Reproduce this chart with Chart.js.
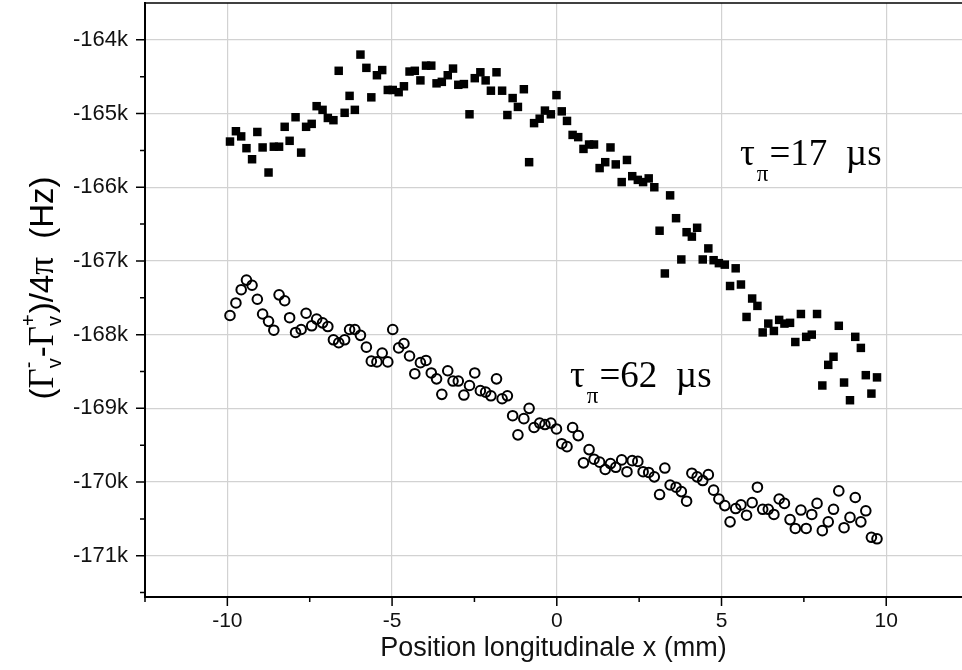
<!DOCTYPE html>
<html>
<head>
<meta charset="utf-8">
<title>Position longitudinale</title>
<script src="https://cdn.jsdelivr.net/npm/chart.js@4.4.1/dist/chart.umd.min.js"></script>
<style>
  html, body { margin: 0; padding: 0; background: #fff; overflow: hidden; }
  canvas { display: block; }
</style>
</head>
<body>
<canvas id="grafik" width="962" height="670"></canvas>
<script>
// Position x (mm), same for both series
const positions = [
  -9.92,-9.74,-9.58,-9.42,-9.25,-9.09,-8.93,-8.75,-8.59,-8.43,
  -8.26,-8.11,-7.93,-7.76,-7.61,-7.44,-7.29,-7.11,-6.95,-6.78,
  -6.62,-6.44,-6.29,-6.13,-5.96,-5.78,-5.63,-5.46,-5.30,-5.13,
  -4.98,-4.80,-4.64,-4.47,-4.31,-4.14,-3.97,-3.81,-3.65,-3.49,
  -3.31,-3.15,-2.99,-2.82,-2.65,-2.49,-2.32,-2.16,-2.00,-1.83,
  -1.66,-1.50,-1.34,-1.18,-1.00,-0.84,-0.69,-0.52,-0.36,-0.18,
  -0.01,0.15,0.31,0.48,0.65,0.81,0.98,1.13,1.30,1.47,
  1.63,1.79,1.97,2.13,2.29,2.46,2.62,2.79,2.96,3.12,
  3.28,3.44,3.62,3.78,3.94,4.10,4.26,4.43,4.60,4.76,
  4.92,5.10,5.26,5.43,5.59,5.76,5.93,6.09,6.25,6.42,
  6.59,6.75,6.91,7.08,7.24,7.41,7.57,7.74,7.90,8.06,
  8.24,8.40,8.56,8.72,8.90,9.06,9.23,9.38,9.55,9.72
];

// tau_pi = 17 us (filled squares), in kHz
const tau17 = [
  -165.38,-165.24,-165.31,-165.47,-165.62,-165.25,-165.46,-165.80,-165.45,-165.45,
  -165.18,-165.37,-165.05,-165.53,-165.18,-165.14,-164.90,-164.95,-165.06,-165.09,
  -164.42,-164.99,-164.76,-164.95,-164.20,-164.38,-164.78,-164.48,-164.41,-164.68,
  -164.68,-164.71,-164.63,-164.43,-164.42,-164.55,-164.35,-164.35,-164.59,-164.57,
  -164.48,-164.39,-164.61,-164.60,-165.01,-164.52,-164.44,-164.55,-164.69,-164.44,
  -164.69,-165.02,-164.79,-164.91,-164.67,-165.66,-165.13,-165.07,-164.96,-165.01,
  -164.75,-164.97,-165.10,-165.29,-165.32,-165.48,-165.42,-165.42,-165.74,-165.66,
  -165.46,-165.69,-165.93,-165.63,-165.85,-165.90,-165.93,-165.88,-166.00,-166.59,
  -167.17,-166.11,-166.42,-166.98,-166.61,-166.67,-166.55,-166.98,-166.83,-166.99,
  -167.03,-167.05,-167.34,-167.10,-167.32,-167.76,-167.51,-167.61,-167.97,-167.85,
  -167.95,-167.80,-167.85,-167.84,-168.10,-167.72,-168.03,-168.00,-167.72,-168.69,
  -168.41,-168.30,-167.88,-168.65,-168.89,-168.03,-168.18,-168.55,-168.80,-168.58
];

// tau_pi = 62 us (open circles), in kHz
const tau62 = [
  -167.74,-167.57,-167.39,-167.26,-167.33,-167.52,-167.72,-167.82,-167.94,-167.46,
  -167.54,-167.77,-167.97,-167.93,-167.71,-167.88,-167.79,-167.84,-167.89,-168.07,
  -168.11,-168.07,-167.93,-167.93,-168.01,-168.17,-168.36,-168.37,-168.25,-168.37,
  -167.93,-168.18,-168.12,-168.29,-168.53,-168.38,-168.35,-168.52,-168.60,-168.81,
  -168.49,-168.63,-168.63,-168.82,-168.69,-168.52,-168.76,-168.78,-168.83,-168.60,
  -168.87,-168.83,-169.10,-169.36,-169.14,-169.00,-169.26,-169.20,-169.22,-169.20,
  -169.28,-169.48,-169.52,-169.26,-169.37,-169.74,-169.56,-169.69,-169.73,-169.83,
  -169.75,-169.80,-169.70,-169.86,-169.71,-169.72,-169.86,-169.87,-169.93,-170.17,
  -169.81,-170.04,-170.07,-170.13,-170.26,-169.88,-169.93,-169.98,-169.90,-170.11,
  -170.23,-170.32,-170.54,-170.36,-170.31,-170.45,-170.28,-170.07,-170.37,-170.37,
  -170.44,-170.23,-170.29,-170.51,-170.63,-170.38,-170.63,-170.44,-170.29,-170.66,
  -170.54,-170.37,-170.12,-170.62,-170.48,-170.21,-170.54,-170.39,-170.75,-170.77
];

// tick values
const xMajor = [-10, -5, 0, 5, 10];
const xMinor = [-12.5, -7.5, -2.5, 2.5, 7.5];
const yMajor = [-171, -170, -169, -168, -167, -166, -165, -164];
const yMinor = [-171.5, -170.5, -169.5, -168.5, -167.5, -166.5, -165.5, -164.5];

// series labels drawn inside the plot
const notes = [
  { x: 5.56, y: -165.70, text: '17' },
  { x: 0.40, y: -168.71, text: '62' }
];

const SANS = '"Liberation Sans", Arial, sans-serif';
const SERIF = '"Liberation Serif", "Times New Roman", serif';

function toPoints(ys) {
  return positions.map((x, i) => ({ x: x, y: ys[i] }));
}

function isMajor(list, v) {
  return list.some(m => Math.abs(m - v) < 1e-6);
}

function noPadding(scale) {
  scale.paddingTop = 0;
  scale.paddingBottom = 0;
  scale.paddingLeft = 0;
  scale.paddingRight = 0;
}

function drawYTitle(ctx) {
  const big = '33px ' + SANS;
  const greek = '35px ' + SERIF;
  const small = '20px ' + SANS;
  const parts = [
    { t: '(', f: big }, { t: 'Γ', f: greek }, { sup: '-', sub: 'v' },
    { t: '-', f: big }, { t: 'Γ', f: greek }, { sup: '+', sub: 'v' },
    { t: ')/4', f: big }, { t: 'π', f: greek }, { t: '  (Hz)', f: big }
  ];
  let total = 0;
  parts.forEach(p => {
    if (p.t) {
      ctx.font = p.f;
      p.w = ctx.measureText(p.t).width;
    } else {
      ctx.font = small;
      p.w = Math.max(ctx.measureText(p.sup).width, ctx.measureText(p.sub).width) + 1;
    }
    total += p.w;
  });
  ctx.save();
  ctx.translate(53, 288);
  ctx.rotate(-Math.PI / 2);
  ctx.fillStyle = '#000';
  ctx.textAlign = 'left';
  ctx.textBaseline = 'alphabetic';
  let u = -total / 2;
  parts.forEach(p => {
    if (p.t) {
      ctx.font = p.f;
      ctx.fillText(p.t, u, 0);
    } else {
      ctx.font = small;
      ctx.fillText(p.sup, u, -18);
      ctx.fillText(p.sub, u, 8);
    }
    u += p.w;
  });
  ctx.restore();
}

function drawNote(ctx, px, py, val) {
  ctx.save();
  ctx.fillStyle = '#000';
  ctx.textAlign = 'left';
  ctx.textBaseline = 'alphabetic';
  ctx.font = '37px ' + SERIF;
  ctx.fillText('τ', px, py);
  let u = px + ctx.measureText('τ').width + 2;
  ctx.font = '23px ' + SERIF;
  ctx.fillText('π', u, py + 16);
  u += ctx.measureText('π').width + 1;
  ctx.font = '37px ' + SERIF;
  ctx.fillText('=' + val + '  µs', u, py);
  ctx.restore();
}

const extras = {
  id: 'extras',
  afterDraw(chart) {
    const ctx = chart.ctx;
    const a = chart.chartArea;
    const sx = chart.scales.x;
    const sy = chart.scales.y;
    ctx.save();
    ctx.strokeStyle = '#000';
    ctx.lineWidth = 1.5;
    // top frame line
    ctx.beginPath();
    ctx.moveTo(a.left, a.top);
    ctx.lineTo(a.right, a.top);
    ctx.stroke();
    // outward ticks, long for major, short for minor
    ctx.beginPath();
    sy.ticks.forEach(t => {
      const p = sy.getPixelForValue(t.value);
      const len = isMajor(yMajor, t.value) ? 9 : 5;
      ctx.moveTo(a.left - len, p);
      ctx.lineTo(a.left, p);
    });
    sx.ticks.forEach(t => {
      const p = sx.getPixelForValue(t.value);
      const len = isMajor(xMajor, t.value) ? 9 : 5;
      ctx.moveTo(p, a.bottom);
      ctx.lineTo(p, a.bottom + len);
    });
    ctx.stroke();
    ctx.restore();

    drawYTitle(ctx);
    notes.forEach(n => {
      drawNote(ctx, sx.getPixelForValue(n.x), sy.getPixelForValue(n.y), n.text);
    });
  }
};

const gridColor = (list) => (c) => (c.tick && isMajor(list, c.tick.value)) ? '#d2d2d2' : 'rgba(0,0,0,0)';

const chart = new Chart(document.getElementById('grafik'), {
  type: 'scatter',
  data: {
    datasets: [
      {
        label: 'τπ=17 µs',
        data: toPoints(tau17),
        pointStyle: 'rect',
        pointRadius: 6,
        borderWidth: 0,
        backgroundColor: '#000',
        borderColor: '#000'
      },
      {
        label: 'τπ=62 µs',
        data: toPoints(tau62),
        pointStyle: 'circle',
        pointRadius: 4.8,
        borderWidth: 2,
        backgroundColor: 'rgba(255,255,255,0)',
        borderColor: '#000'
      }
    ]
  },
  options: {
    responsive: false,
    animation: false,
    events: [],
    layout: { autoPadding: false, padding: { top: 3, right: 0, left: 0, bottom: 0 } },
    plugins: {
      legend: { display: false },
      tooltip: { enabled: false }
    },
    scales: {
      x: {
        type: 'linear',
        min: -12.5,
        max: 12.3,
        afterBuildTicks(scale) {
          scale.ticks = xMinor.concat(xMajor).sort((p, q) => p - q).map(v => ({ value: v }));
        },
        afterFit(scale) { scale.height = 73; noPadding(scale); },
        grid: { color: gridColor(xMajor), lineWidth: 1.2, drawTicks: false },
        border: { color: '#000', width: 2 },
        ticks: {
          autoSkip: false,
          maxRotation: 0,
          padding: 12,
          color: '#111',
          font: { family: SANS, size: 21 },
          callback: (v) => isMajor(xMajor, v) ? String(v) : ''
        },
        title: {
          display: true,
          text: 'Position longitudinale x (mm)',
          color: '#111',
          font: { family: SANS, size: 27 },
          padding: { top: 0, bottom: 5 }
        }
      },
      y: {
        type: 'linear',
        min: -171.56,
        max: -163.5,
        afterBuildTicks(scale) {
          scale.ticks = yMinor.concat(yMajor).sort((p, q) => p - q).map(v => ({ value: v }));
        },
        afterFit(scale) { scale.width = 145; noPadding(scale); },
        grid: { color: gridColor(yMajor), lineWidth: 1.2, drawTicks: false },
        border: { color: '#000', width: 2 },
        ticks: {
          autoSkip: false,
          padding: 17,
          color: '#111',
          font: { family: SANS, size: 22 },
          callback: (v) => isMajor(yMajor, v) ? v + 'k' : ''
        }
      }
    }
  },
  plugins: [extras]
});
</script>
</body>
</html>
